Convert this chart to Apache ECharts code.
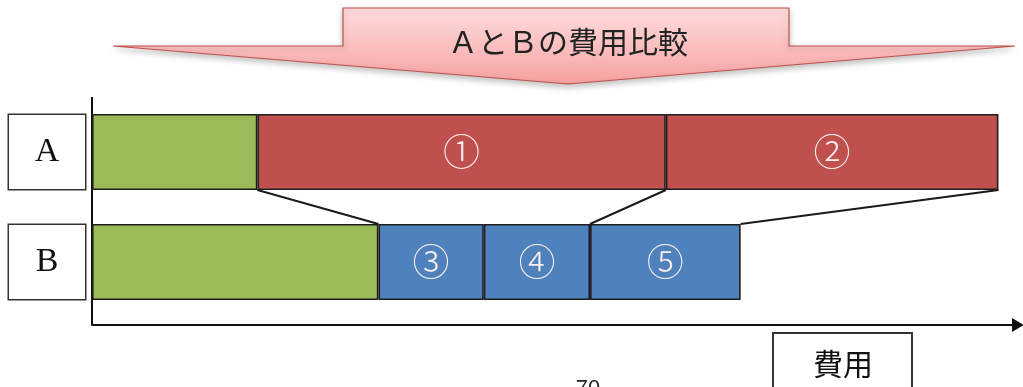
<!DOCTYPE html>
<html>
<head>
<meta charset="utf-8">
<script src="https://cdn.jsdelivr.net/npm/echarts@6/dist/echarts.min.js"></script>
<style>
    html, body { margin: 0; padding: 0; background: #fff; }
    #cost_chart { width: 1023px; height: 387px; }
</style>
</head>
<body>
<div id="cost_chart"></div>
<script>
    // 費用（横軸は 0〜100 の目盛なし）
    const categories = ['A', 'B'];
    const baseCost = [17.9, 31.0];          // 緑の部分 A, B
    const costALabels = ['①', '②'];
    const costA = [44.2, 36.0];
    const costBLabels = ['③', '④', '⑤'];
    const costB = [11.4, 11.5, 16.3];
    // Aの各区切りがつながるBの区切り（累積の番号）
    const linkTo = [0, 2, 3];
    const axisMax = 100;

    const cumsum = (start, arr) => arr.reduce((acc, v) => {
        acc.push(acc[acc.length - 1] + v);
        return acc;
    }, [start]);
    const aEnds = cumsum(baseCost[0], costA);
    const bEnds = cumsum(baseCost[1], costB);
    const linkData = aEnds.map((a, i) => [a, bEnds[linkTo[i]], 0]);

    const barBorder = { borderColor: '#1e1e1e', borderWidth: 1.6 };
    const numLabel = {
        show: true,
        position: 'inside',
        color: '#fbf0f0',
        fontSize: 37,
        fontWeight: 300,
        fontFamily: '"Noto Sans CJK JP"'
    };

    const series = [
        {
            name: 'base',
            type: 'bar',
            stack: 'cost',
            barWidth: 76,
            data: baseCost,
            itemStyle: Object.assign({ color: '#9bbb59' }, barBorder)
        },
        ...costA.map((v, i) => ({
            name: costALabels[i],
            type: 'bar',
            stack: 'cost',
            barWidth: 76,
            data: [v, null],
            itemStyle: Object.assign({ color: '#c0504d' }, barBorder),
            label: Object.assign({ formatter: costALabels[i] }, numLabel)
        })),
        ...costB.map((v, i) => ({
            name: costBLabels[i],
            type: 'bar',
            stack: 'cost',
            barWidth: 76,
            data: [null, v],
            itemStyle: Object.assign({ color: '#4f81bd' }, barBorder),
            label: Object.assign({ formatter: costBLabels[i] }, numLabel)
        })),
        {
            type: 'custom',
            data: linkData,
            encode: { x: [0, 1], y: 2 },
            clip: false,
            silent: true,
            z: 5,
            renderItem: (params, api) => {
                const half = 38;
                const p1 = api.coord([api.value(0), 0]);
                const p2 = api.coord([api.value(1), 1]);
                return {
                    type: 'line',
                    shape: { x1: p1[0], y1: p1[1] + half, x2: p2[0], y2: p2[1] - half },
                    style: { stroke: '#1a1a1a', lineWidth: 2 }
                };
            }
        }
    ];

    const option = {
        animation: false,
        grid: { left: 92, right: 7, top: 97, height: 220 },
        xAxis: {
            type: 'value',
            min: 0,
            max: axisMax,
            offset: 8,
            axisLine: {
                show: true,
                symbol: ['none', 'triangle'],
                symbolSize: [14, 12],
                symbolOffset: [0, 2],
                lineStyle: { color: '#111', width: 2 }
            },
            axisTick: { show: false },
            axisLabel: { show: false },
            splitLine: { show: false }
        },
        yAxis: {
            type: 'category',
            data: categories,
            inverse: true,
            axisLine: { show: false },
            axisTick: { show: false },
            axisLabel: {
                margin: 45,
                align: 'center',
                verticalAlign: 'middle',
                width: 76,
                height: 74,
                lineHeight: 74,
                backgroundColor: '#fff',
                borderColor: '#333',
                borderWidth: 1.5,
                color: '#111',
                fontSize: 34,
                fontFamily: '"Liberation Serif"'
            }
        },
        graphic: [
            {
                // タイトルの矢印
                type: 'polygon',
                z: 0,
                shape: {
                    points: [[113, 46], [343, 46], [343, 8], [789, 8], [789, 46], [1015, 46], [568, 84]]
                },
                style: {
                    fill: new echarts.graphic.LinearGradient(0, 0, 0, 1, [
                        { offset: 0, color: '#ffdede' },
                        { offset: 1, color: '#f5a0a0' }
                    ]),
                    stroke: '#c0504d',
                    lineWidth: 1.2,
                    shadowBlur: 6,
                    shadowOffsetY: 3,
                    shadowColor: 'rgba(0,0,0,0.25)'
                }
            },
            {
                type: 'text',
                x: 568,
                y: 42,
                z: 1,
                style: {
                    text: 'ＡとＢの費用比較',
                    align: 'center',
                    verticalAlign: 'middle',
                    fill: '#222',
                    fontSize: 30,
                    fontFamily: '"Noto Sans CJK JP"'
                }
            },
            {
                // 縦軸の線
                type: 'line',
                shape: { x1: 92, y1: 97, x2: 92, y2: 325 },
                style: { stroke: '#111', lineWidth: 2 }
            },
            {
                type: 'rect',
                shape: { x: 773, y: 333, width: 139, height: 70 },
                style: { fill: '#fff', stroke: '#333', lineWidth: 2 }
            },
            {
                type: 'text',
                x: 843,
                y: 364,
                style: {
                    text: '費用',
                    align: 'center',
                    verticalAlign: 'middle',
                    fill: '#111',
                    fontSize: 30,
                    fontFamily: '"Noto Sans CJK JP"'
                }
            },
            {
                type: 'text',
                x: 588,
                y: 378,
                style: {
                    text: '70',
                    align: 'center',
                    verticalAlign: 'top',
                    fill: '#222',
                    fontSize: 22,
                    fontFamily: '"Liberation Sans"'
                }
            }
        ],
        series: series
    };

    const chart = echarts.init(document.getElementById('cost_chart'));
    chart.setOption(option);
</script>
</body>
</html>
